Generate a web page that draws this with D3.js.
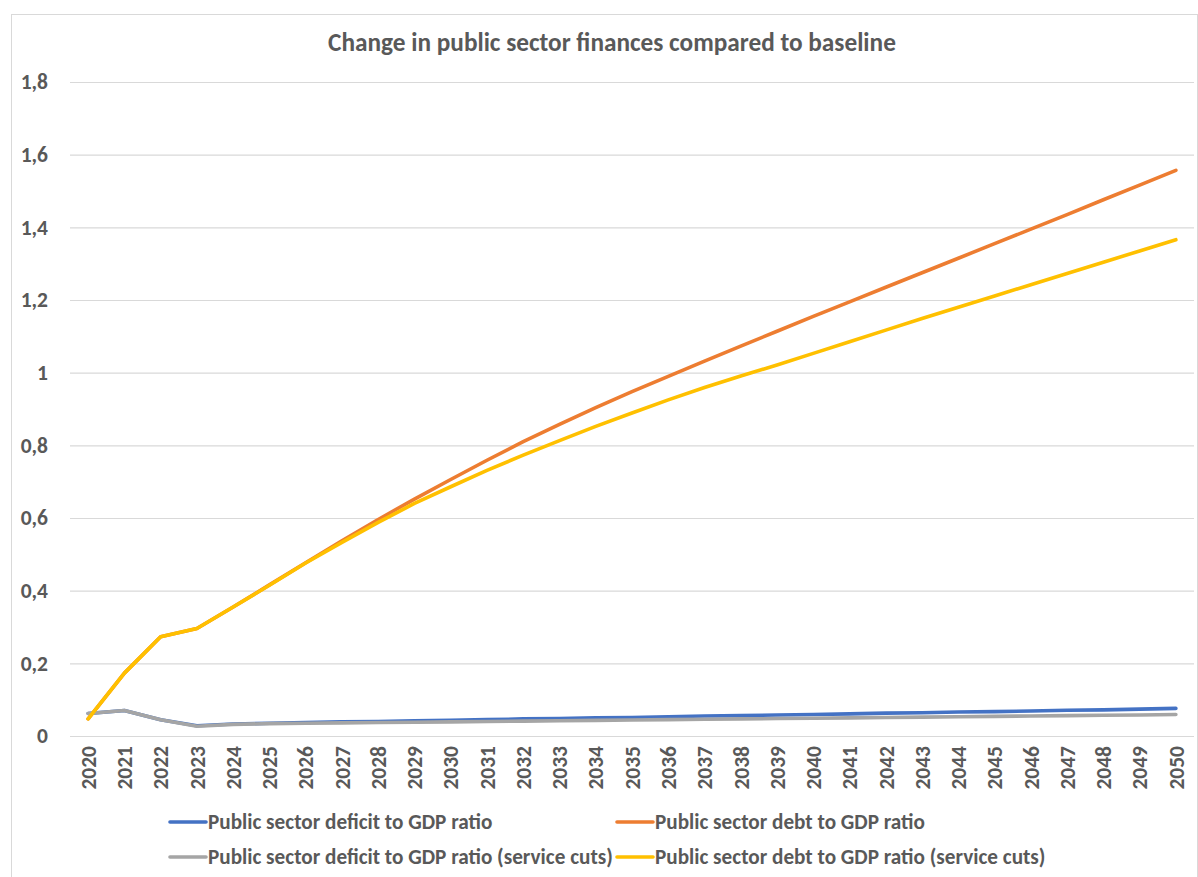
<!DOCTYPE html>
<html>
<head>
<meta charset="utf-8">
<script src="https://cdn.jsdelivr.net/npm/d3@7/dist/d3.min.js"></script>
<style>
  html, body { margin: 0; padding: 0; background: #fff; }
  svg { display: block; }
  text { font-family: Carlito, Lato, "Open Sans", sans-serif; fill: #595959; font-weight: bold; }
</style>
</head>
<body>
<svg id="chart" width="1198" height="877"></svg>
<script>
// Categories (years)
const years = [2020, 2021, 2022, 2023, 2024, 2025, 2026, 2027, 2028, 2029, 2030,
  2031, 2032, 2033, 2034, 2035, 2036, 2037, 2038, 2039, 2040,
  2041, 2042, 2043, 2044, 2045, 2046, 2047, 2048, 2049, 2050];

// Series values (change vs baseline)
const deficitRatio = [0.062, 0.070, 0.045, 0.028, 0.033, 0.035, 0.037, 0.039, 0.040, 0.042, 0.043,
  0.045, 0.047, 0.048, 0.050, 0.051, 0.053, 0.055, 0.056, 0.058, 0.059,
  0.061, 0.063, 0.064, 0.066, 0.067, 0.069, 0.071, 0.072, 0.074, 0.076];
const debtRatio = [0.047, 0.173, 0.273, 0.296, 0.355, 0.416, 0.477, 0.537, 0.596, 0.652, 0.706,
  0.759, 0.810, 0.858, 0.904, 0.948, 0.990, 1.032, 1.073, 1.114, 1.155,
  1.195, 1.235, 1.275, 1.315, 1.355, 1.395, 1.435, 1.476, 1.516, 1.557];
const deficitRatioCuts = [0.062, 0.070, 0.045, 0.027, 0.032, 0.034, 0.035, 0.036, 0.037, 0.038, 0.039,
  0.040, 0.041, 0.042, 0.043, 0.044, 0.045, 0.046, 0.047, 0.048, 0.049,
  0.050, 0.051, 0.052, 0.053, 0.054, 0.055, 0.056, 0.057, 0.058, 0.059];
const debtRatioCuts = [0.047, 0.173, 0.273, 0.296, 0.355, 0.415, 0.476, 0.533, 0.588, 0.640, 0.686,
  0.731, 0.773, 0.813, 0.852, 0.889, 0.925, 0.959, 0.991, 1.021, 1.053,
  1.085, 1.117, 1.149, 1.180, 1.211, 1.242, 1.273, 1.304, 1.335, 1.366];

// Series names and y tick values
const seriesNames = [
  "Public sector deficit to GDP ratio",
  "Public sector debt to GDP ratio",
  "Public sector deficit to GDP ratio (service cuts)",
  "Public sector debt to GDP ratio (service cuts)"
];
const yTicks = [0, 0.2, 0.4, 0.6, 0.8, 1, 1.2, 1.4, 1.6, 1.8];
const titleText = "Change in public sector finances compared to baseline";

const series = [
  { name: seriesNames[0], values: deficitRatio, color: "#4472C4" },
  { name: seriesNames[1], values: debtRatio, color: "#ED7D31" },
  { name: seriesNames[2], values: deficitRatioCuts, color: "#A5A5A5" },
  { name: seriesNames[3], values: debtRatioCuts, color: "#FFC000" }
];

const svg = d3.select("#chart");
const W = 1198, H = 877;
const tickFont = "21.5px";

svg.append("rect").attr("width", W).attr("height", H).attr("fill", "#fff");
// chart area frame
svg.append("rect")
  .attr("x", 11.5).attr("y", 14.5)
  .attr("width", 1186).attr("height", 875)
  .attr("fill", "none").attr("stroke", "#d9d9d9").attr("stroke-width", 1);

const plot = { left: 70, right: 1194, top: 82, bottom: 736 };

const x = d3.scaleBand().domain(years).range([plot.left, plot.right]).padding(0);
const xc = d => x(d) + x.bandwidth() / 2;
const y = d3.scaleLinear().domain([0, 1.8]).range([plot.bottom, plot.top]);

const locale = d3.formatLocale({ decimal: ",", thousands: " ", grouping: [3], currency: ["", ""] });
const fmt = locale.format("~g");

// gridlines and y labels
const yAxis = d3.axisLeft(y).tickValues(yTicks).tickSize(-(plot.right - plot.left)).tickFormat(fmt).tickPadding(22);
const gy = svg.append("g").attr("transform", `translate(${plot.left},0)`).call(yAxis);
gy.select(".domain").remove();
gy.selectAll(".tick line").attr("stroke", "#d9d9d9").attr("stroke-width", 1.2);
gy.selectAll(".tick text")
  .attr("fill", "#595959")
  .style("font-size", tickFont)
  .style("font-family", "Carlito, Lato, 'Open Sans', sans-serif").style("font-weight", "bold");

// x axis labels (rotated)
const xAxis = d3.axisBottom(x).tickSize(0).tickPadding(0);
const gx = svg.append("g").attr("transform", `translate(0,${plot.bottom})`).call(xAxis);
gx.select(".domain").remove();
gx.selectAll(".tick text")
  .attr("transform", "rotate(-90)")
  .attr("x", -10).attr("y", 0).attr("dy", "0.36em")
  .attr("text-anchor", "end")
  .attr("fill", "#595959")
  .style("font-size", tickFont)
  .style("font-family", "Carlito, Lato, 'Open Sans', sans-serif").style("font-weight", "bold");

// lines
const line = d3.line().x((d, i) => xc(years[i])).y(d => y(d));
svg.append("g").selectAll("path").data(series).join("path")
  .attr("d", d => line(d.values))
  .attr("fill", "none")
  .attr("stroke", d => d.color)
  .attr("stroke-width", 3.6)
  .attr("stroke-linejoin", "round")
  .attr("stroke-linecap", "round");

// title, sized to span its width
const title = svg.append("text")
  .attr("x", 612).attr("y", 51)
  .attr("text-anchor", "middle")
  .style("font-size", "19px")
  .text(titleText);
{
  const w = title.node().getComputedTextLength();
  title.style("font-size", (19 * 568 / w) + "px");
}

// legend
const legendPos = [
  { lx: 170, ty: 822 }, { lx: 617, ty: 822 },
  { lx: 170, ty: 857 }, { lx: 617, ty: 857 }
];
const lg = svg.append("g").selectAll("g").data(series).join("g")
  .attr("transform", (d, i) => `translate(${legendPos[i].lx},${legendPos[i].ty})`);
lg.append("line")
  .attr("x1", 0).attr("x2", 36).attr("y1", 0).attr("y2", 0)
  .attr("stroke", d => d.color).attr("stroke-width", 3.6).attr("stroke-linecap", "round");
const lt = lg.append("text")
  .attr("x", 38).attr("y", 0).attr("dy", "0.35em")
  .style("font-size", "17px")
  .text(d => d.name);
{
  // scale legend font so the longest entry spans its measured width
  const w = lt.filter((d, i) => i === 2).node().getComputedTextLength();
  lt.style("font-size", (17 * 405 / w) + "px");
}
</script>
</body>
</html>
